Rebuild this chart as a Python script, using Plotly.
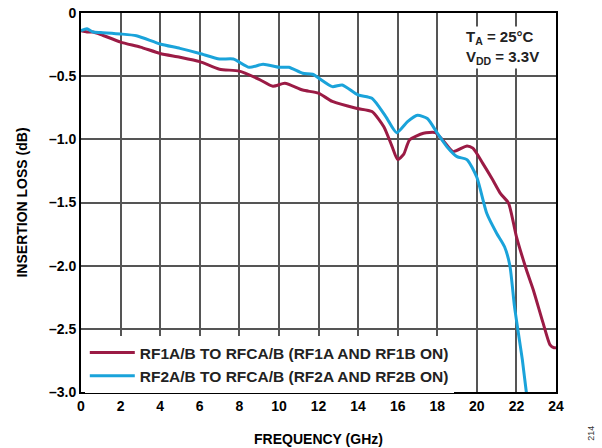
import plotly.graph_objects as go

# RF1A/B -> RFCA/B
freq1 = [0, 0.3, 0.6, 1, 2, 3, 4, 5, 6, 7, 8, 9, 9.7, 10.3, 11.2, 12.0, 12.7, 13.9,
         14.7, 15.3, 15.7, 16.0, 16.3, 16.6, 17.3, 17.9, 18.3, 18.8, 19.5, 19.8,
         20.3, 20.8, 21.2, 21.6, 22.0, 22.5, 22.85, 23.35, 23.7, 23.9, 24.0]
loss1 = [-0.14, -0.15, -0.15, -0.17, -0.23, -0.27, -0.32, -0.35, -0.385, -0.445,
         -0.46, -0.525, -0.58, -0.556, -0.61, -0.635, -0.70, -0.754, -0.78, -0.90,
         -1.05, -1.16, -1.12, -1.005, -0.952, -0.947, -1.01, -1.097, -1.052, -1.07,
         -1.19, -1.32, -1.43, -1.505, -1.77, -2.03, -2.19, -2.455, -2.627, -2.65, -2.65]

# RF2A/B -> RFCA/B
freq2 = [0, 0.3, 0.6, 1, 2, 2.8, 4, 5, 6, 7, 7.7, 8.5, 9.2, 10, 10.5, 11.2, 11.7,
         12.7, 13.2, 14.0, 14.7, 15.4, 15.95, 16.5, 17.0, 17.5, 18.0, 18.5, 19.0,
         19.5, 20.0, 20.5, 21.0, 21.4, 21.67, 21.9, 22.1, 22.3, 22.5, 22.6]
loss2 = [-0.14, -0.125, -0.15, -0.155, -0.166, -0.18, -0.245, -0.28, -0.32, -0.364,
         -0.364, -0.43, -0.406, -0.43, -0.43, -0.477, -0.485, -0.583, -0.57, -0.649,
         -0.675, -0.82, -0.947, -0.86, -0.81, -0.835, -0.95, -1.06, -1.137, -1.16,
         -1.30, -1.585, -1.743, -1.85, -2.0, -2.32, -2.535, -2.745, -3.0, -3.1]

names = ["RF1A/B TO RFCA/B (RF1A AND RF1B ON)", "RF2A/B TO RFCA/B (RF2A AND RF2B ON)"]
colors = ["#9B1B45", "#1AA3DA"]

x_ticks = list(range(0, 25, 2))
y_ticks = [0, -0.5, -1.0, -1.5, -2.0, -2.5, -3.0]
y_labels = ["0", "–0.5", "–1.0", "–1.5", "–2.0", "–2.5", "–3.0"]

font = "Liberation Sans, Arial, sans-serif"
grid_col = "rgb(85,85,85)"

fig = go.Figure()
for fx, fy, nm, c in zip([freq1, freq2], [loss1, loss2], names, colors):
    fig.add_trace(go.Scatter(x=fx, y=fy, mode="lines", name="<b>%s</b>" % nm,
                             line=dict(color=c, width=3, shape="spline", smoothing=0.6)))

fig.update_layout(
    width=602, height=448,
    margin=dict(l=81, r=46, t=13, b=56),
    plot_bgcolor="white", paper_bgcolor="white",
    font=dict(family=font, size=14, color="black"),
    legend=dict(x=0.008, y=0.148, xanchor="left", yanchor="top", bgcolor="white",
                font=dict(size=15.5, color="#222"), tracegroupgap=0, itemwidth=45),
    showlegend=True,
)
fig.update_xaxes(range=[0, 24], tickvals=x_ticks, ticktext=["<b>%d</b>" % v for v in x_ticks],
                 showgrid=True, gridcolor=grid_col, gridwidth=1.5, griddash="solid",
                 showline=True, linecolor="black", linewidth=2, mirror=True,
                 zeroline=False, ticks="", automargin=False, ticklabeloverflow="allow",
                 title=dict(text="<b>FREQUENCY (GHz)</b>", font=dict(size=14), standoff=21))
fig.update_yaxes(range=[-3, 0], tickvals=y_ticks, ticktext=["<b>%s</b>" % t for t in y_labels],
                 showgrid=True, gridcolor=grid_col, gridwidth=1.5, griddash="solid",
                 showline=True, linecolor="black", linewidth=2, mirror=True,
                 zeroline=False, ticks="", automargin=False, ticklabeloverflow="allow",
                 title=dict(text="<b>INSERTION LOSS (dB)</b>", font=dict(size=14), standoff=18))

fig.add_annotation(xref="paper", yref="paper", x=0.806, y=0.967, xanchor="left", yanchor="top",
                   text="<b>T<sub>A</sub> = 25°C<br>V<sub>DD</sub> = 3.3V</b>", align="left",
                   showarrow=False, bgcolor="white", font=dict(size=15, color="#222"))
fig.add_annotation(xref="paper", yref="paper", x=1.072, y=-0.135, xanchor="center", yanchor="bottom",
                   text="214", textangle=-90, showarrow=False, font=dict(size=9, color="#333"))

# drop the browser's default 8px body margin so the figure fills the window
fig.write_html("out.html", config={"displayModeBar": False},
               post_script="document.body.style.margin='0';")
